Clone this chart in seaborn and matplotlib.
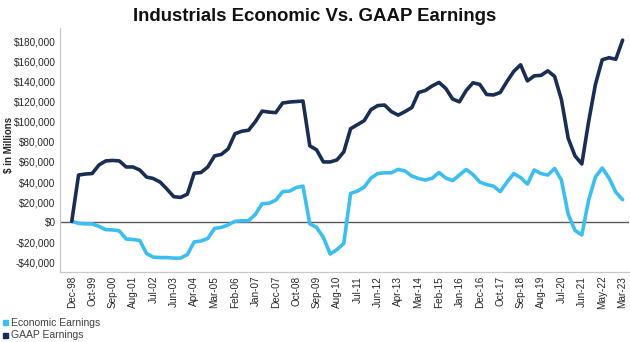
import numpy as np
import pandas as pd
import matplotlib
matplotlib.use("Agg")
import matplotlib.pyplot as plt
import seaborn as sns
from matplotlib.lines import Line2D
from matplotlib.ticker import FuncFormatter

tick_labels = ["Dec-98", "Oct-99", "Sep-00", "Aug-01", "Jul-02", "Jun-03", "Apr-04",
               "Mar-05", "Feb-06", "Jan-07", "Dec-07", "Oct-08", "Sep-09", "Aug-10",
               "Jul-11", "Jun-12", "Apr-13", "Mar-14", "Feb-15", "Jan-16", "Dec-16",
               "Oct-17", "Sep-18", "Aug-19", "Jul-20", "Jun-21", "May-22", "Mar-23"]

gaap = [1000, 47000, 48000, 48500, 57000, 61000, 61500, 61000, 55000, 55000,
        52000, 45000, 43500, 40000, 33000, 25500, 24800, 28000, 48800, 49500,
        55000, 66000, 67500, 73000, 88000, 90500, 91500, 100000, 110500, 109500,
        109000, 118500, 119500, 120000, 120500, 76000, 72000, 60000, 60000, 62000,
        70000, 93000, 97000, 101000, 112000, 116000, 116500, 110000, 106500, 110000,
        114000, 129000, 131000, 135500, 139000, 133000, 122500, 119700, 131000, 138600,
        137000, 127000, 126500, 129000, 140000, 150000, 156500, 140500, 145500, 146000,
        150500, 145000, 122000, 83400, 66000, 58000, 100000, 137000, 161500, 163500,
        162000, 181000]

economic = [1000, -1000, -1500, -1500, -4000, -7200, -7500, -8500, -16500, -17000,
            -18000, -31000, -34500, -35000, -35000, -35500, -35500, -32000, -19500, -18500,
            -16000, -6000, -5000, -2500, 1000, 1600, 1600, 8000, 18500, 19000,
            22000, 30500, 31000, 34500, 36000, -1500, -5000, -15000, -31500, -27000,
            -21000, 28800, 31000, 35000, 44000, 48500, 49200, 49200, 52600, 51000,
            46000, 43500, 42000, 43800, 49500, 44000, 41500, 47000, 52500, 47500,
            40000, 37500, 36000, 30500, 40000, 48500, 44500, 38000, 52000, 48500,
            47000, 53500, 42000, 8000, -8000, -12500, 22000, 45000, 54000, 44000,
            30000, 22500]

series_names = ["Economic Earnings", "GAAP Earnings"]
colors = {"Economic Earnings": "#3cbfee", "GAAP Earnings": "#1a2e52"}

n = len(gaap)
df = pd.DataFrame({
    "idx": list(range(n)) * 2,
    "value": economic + gaap,
    "series": [series_names[0]] * n + [series_names[1]] * n,
})

sns.set_theme(style="white")
plt.rcParams["font.family"] = ["Liberation Sans", "DejaVu Sans"]

fig = plt.figure(figsize=(6.3, 3.42), dpi=100)
ax = fig.add_axes([0.095, 0.2056, 0.903, 0.7124])

sns.lineplot(data=df, x="idx", y="value", hue="series", palette=colors,
             hue_order=series_names, linewidth=2.6, ax=ax, legend=False)

ax.axhline(0, color="#595959", linewidth=1.0, zorder=1)

ax.set_xlim(-1.75, 81.9)
ax.set_ylim(-49000, 193000)
ax.set_yticks(np.arange(-40000, 180001, 20000))
ax.yaxis.set_major_formatter(FuncFormatter(
    lambda v, p: ("-$" if v < 0 else "$") + f"{abs(int(v)):,}"))
ax.set_xticks(list(range(0, n, 3)))
ax.set_xticklabels(tick_labels, rotation=90, fontsize=7.2, color="#262626")
ax.tick_params(axis="y", labelsize=7.2, labelcolor="#262626", length=0, pad=3)
ax.tick_params(axis="x", length=0, pad=3)

ax.set_xlabel("")
ax.set_ylabel("$ in Millions", fontsize=7, fontweight="bold", color="#262626")
ax.yaxis.set_label_coords(-0.081, 0.52)

for side in ["top", "right"]:
    ax.spines[side].set_visible(False)
for side in ["left", "bottom"]:
    ax.spines[side].set_color("#c8c8c8")
    ax.spines[side].set_linewidth(0.9)

fig.suptitle("Industrials Economic Vs. GAAP Earnings", x=0.5, y=0.978,
             fontsize=13.4, fontweight="bold", color="#111111")

handles = [Line2D([0], [0], marker="s", linestyle="", markersize=3.6,
                  markerfacecolor=colors[s], markeredgecolor=colors[s]) for s in series_names]
fig.legend(handles, series_names, loc="lower left", bbox_to_anchor=(-0.012, -0.013),
           frameon=False, fontsize=7.5, handletextpad=0.0, labelspacing=0.2,
           handlelength=1.2, borderaxespad=0.2, labelcolor="#404040")

fig.savefig("out.png", dpi=100)
